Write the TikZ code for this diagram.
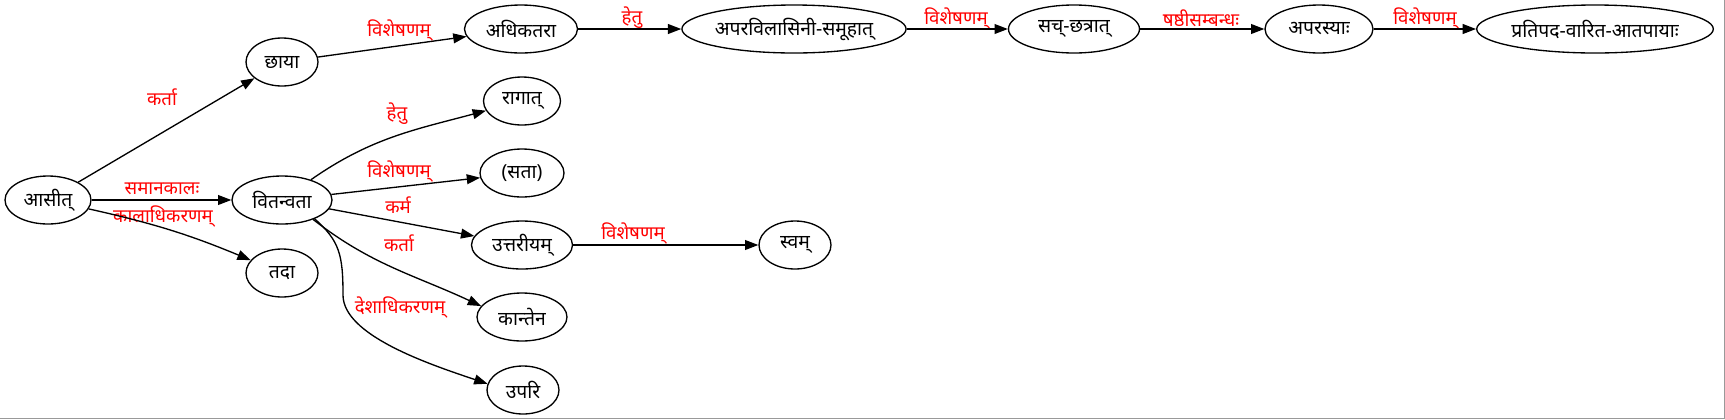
\documentclass[tikz,border=0pt]{standalone}
\usepackage{fontspec}
\newfontfamily\deva[Script=Devanagari]{Noto Sans}
\usepackage{tikz}
\usetikzlibrary{calc}
\usetikzlibrary{shapes.geometric}
\usetikzlibrary{arrows.meta}

\tikzset{
	word/.style={draw, ellipse, line width=1pt, inner sep=0pt, minimum height=36pt, font=\deva\fontsize{14.5}{17}\selectfont},
	rel/.style={text=red, inner sep=0pt, font=\deva\fontsize{14}{17}\selectfont},
	dep/.style={line width=1pt, -{Triangle[length=10pt,width=7.4pt]}},
	frame/.style={draw=black!40, line width=0.75pt},
}

\begin{document}
\begin{tikzpicture}[x=0.75pt, y=0.75pt]
	
	% one unit = one pixel of the 1725 x 419 canvas, y runs downwards as negative
	\useasboundingbox (0,0) rectangle (1725,-419);
	\draw[frame] (1724.5,0) -- (1724.5,-418.5) -- (0,-418.5);
	
	% words of the sentence
	\node[word, minimum width=64.5pt] (asit) at (48,-200) {आसीत्};
	\node[word, minimum width=54pt] (chaya) at (282,-62) {छाया};
	\node[word, minimum width=54pt] (tada) at (282,-273) {तदा};
	\node[word, minimum width=75pt] (vitanvata) at (282,-200) {वितन्वता};
	
	\node[word, minimum width=84.75pt] (adhika) at (521,-29) {अधिकतरा};
	\node[word, minimum width=163.5pt] (apara) at (794,-29) {अपरविलासिनी-समूहात्};
	\node[word, minimum width=98.25pt] (sacchatra) at (1074,-29) {सच्-छत्रात्};
	\node[word, minimum width=81pt] (aparasya) at (1319,-29) {अपरस्याः};
	\node[word, minimum width=177pt] (pratipada) at (1595,-29) {प्रतिपद-वारित-आतपायाः};
	
	\node[word, minimum width=57.75pt] (ragat) at (522,-101) {रागात्};
	\node[word, minimum width=63pt] (sata) at (522,-173) {(सता)};
	\node[word, minimum width=75.75pt] (uttariya) at (522,-245) {उत्तरीयम्};
	\node[word, minimum width=54pt] (svam) at (795,-245) {स्वम्};
	\node[word, minimum width=67.5pt] (kantena) at (522,-317) {कान्तेन};
	\node[word, minimum width=54pt] (upari) at (523,-390) {उपरि};
	
	% relation labels
	\node[rel] (ChayaLabel) at (162,-97) {कर्ता};
	\node[rel] (AdhikaLabel) at (399,-30) {विशेषणम्};
	\node[rel] (AparaLabel) at (632,-18) {हेतु};
	\node[rel] (SacLabel) at (956,-18) {विशेषणम्};
	\node[rel] (AparasyaLabel) at (1201,-18) {षष्ठीसम्बन्धः};
	\node[rel] (PratiLabel) at (1425,-18) {विशेषणम्};
	\node[rel] (VitLabel) at (162,-189) {समानकालः};
	\node[rel] (TadaLabel) at (163,-216) {कालाधिकरणम्};
	\node[rel] (RagatLabel) at (397,-114) {हेतु};
	\node[rel] (SataLabel) at (399,-171) {विशेषणम्};
	\node[rel] (UttarLabel) at (398,-205) {कर्म};
	\node[rel] (KantenaLabel) at (399,-243) {कर्ता};
	\node[rel] (UpariLabel) at (400,-307) {देशाधिकरणम्};
	\node[rel] (SvamLabel) at (633,-233) {विशेषणम्};
	
	% dependencies
	\draw[dep] (asit) -- (chaya);
	\draw[dep] (asit) -- (vitanvata);
	\draw[dep] (asit) to[bend left=5] (tada);
	
	\draw[dep] (chaya) -- (adhika);
	\draw[dep] (adhika) -- (apara);
	\draw[dep] (apara) -- (sacchatra);
	\draw[dep] (sacchatra) -- (aparasya);
	\draw[dep] (aparasya) -- (pratipada);
	
	\draw[dep] (vitanvata) to[out=35,in=195] (ragat);
	\draw[dep] (vitanvata) -- (sata);
	\draw[dep] (vitanvata) -- (uttariya);
	\draw[dep] (uttariya) -- (svam);
	\draw[dep] (vitanvata.-32) to[out=-38,in=155] (kantena.165);
	\draw[dep] (vitanvata.-30) .. controls +(25,-22) and +(0,40) .. ($(vitanvata)+(61,-95)$)
		.. controls +(0,-40) and +(-60,20) .. (upari.170);
	
\end{tikzpicture}
\end{document}
